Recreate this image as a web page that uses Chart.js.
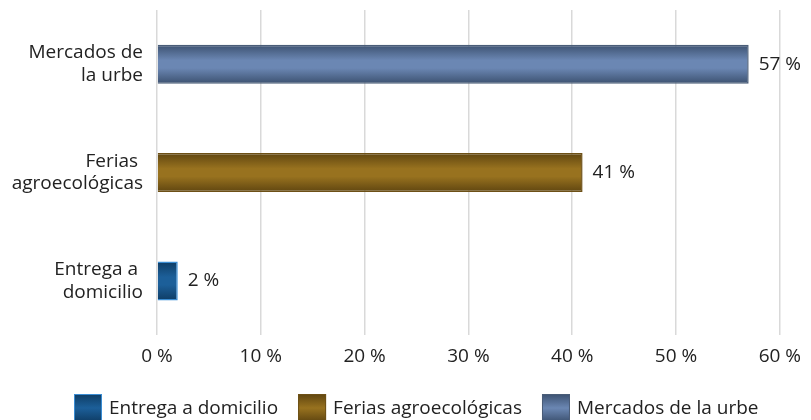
<!DOCTYPE html>
<html lang="es">
<head>
<meta charset="UTF-8">
<title>Canales de compra</title>
<script src="https://cdn.jsdelivr.net/npm/chart.js"></script>
<style>
  html, body { margin: 0; padding: 0; background: #fff; }
  #wrap { width: 811px; height: 420px; }
</style>
</head>
<body>
<div id="wrap"><canvas id="chart"></canvas></div>
<script>
const categories = [['Mercados de', 'la urbe'], ['Ferias ', 'agroecológicas'], ['Entrega a ', 'domicilio']];
const seriesNames = ['Entrega a domicilio', 'Ferias agroecológicas', 'Mercados de la urbe'];
const entregaValues = [null, null, 2];
const feriasValues = [null, 41, null];
const mercadosValues = [57, null, null];
const xTicks = [0, 10, 20, 30, 40, 50, 60];

// shading: [edge, centre, border]
const shades = [
  ['#0e3c64', '#1c5f99', '#3a8cd2'],
  ['#5f4510', '#98721f', '#6d5016'],
  ['#3c5170', '#6b87b3', '#4a5d78']
];

const values = [entregaValues, feriasValues, mercadosValues];

// vertical gradient per bar, computed from the bar's drawn position
const barShade = {
  id: 'barShade',
  beforeDatasetDraw(chart, args) {
    const ctx = chart.ctx;
    const s = shades[args.index];
    const data = chart.data.datasets[args.index].data;
    args.meta.data.forEach((el, j) => {
      if (data[j] == null) return;
      const top = el.y - el.height / 2, bot = el.y + el.height / 2;
      const g = ctx.createLinearGradient(0, top, 0, bot);
      g.addColorStop(0, s[0]);
      g.addColorStop(0.4, s[1]);
      g.addColorStop(0.6, s[1]);
      g.addColorStop(1, s[0]);
      el.options.backgroundColor = g;
    });
  }
};

const valueLabels = {
  id: 'valueLabels',
  afterDatasetsDraw(chart) {
    const ctx = chart.ctx;
    ctx.save();
    ctx.font = '19px "Open Sans"';
    ctx.fillStyle = '#222';
    ctx.textBaseline = 'middle';
    chart.data.datasets.forEach((ds, i) => {
      chart.getDatasetMeta(i).data.forEach((el, j) => {
        if (ds.data[j] == null) return;
        ctx.fillText(ds.data[j] + ' %', el.x + 10, el.y);
      });
    });
    ctx.restore();
  }
};

// legend along the bottom edge (boxes run off the canvas like the original)
const bottomLegend = {
  id: 'bottomLegend',
  afterDraw(chart) {
    const ctx = chart.ctx;
    ctx.save();
    ctx.font = '19px "Open Sans"';
    ctx.textBaseline = 'alphabetic';
    let x = 74;
    const top = 394;
    seriesNames.forEach((name, i) => {
      const g = ctx.createLinearGradient(0, top, 0, top + 28);
      g.addColorStop(0, shades[i][0]);
      g.addColorStop(0.5, shades[i][1]);
      g.addColorStop(1, shades[i][0]);
      ctx.fillStyle = g;
      ctx.fillRect(x, top, 28, 28);
      ctx.strokeStyle = shades[i][2];
      ctx.lineWidth = 1;
      ctx.strokeRect(x + 0.5, top + 0.5, 27, 27);
      ctx.fillStyle = '#222';
      ctx.fillText(name, x + 35, 414);
      x += 35 + ctx.measureText(name).width + 20;
    });
    ctx.restore();
  }
};

new Chart(document.getElementById('chart'), {
  type: 'bar',
  data: {
    labels: categories,
    datasets: seriesNames.map((name, i) => ({
      label: name,
      data: values[i],
      backgroundColor: shades[i][1],
      borderColor: shades[i][2],
      borderWidth: 1.5,
      grouped: false,
      categoryPercentage: 1,
      barPercentage: 0.36
    }))
  },
  plugins: [barShade, valueLabels, bottomLegend],
  options: {
    indexAxis: 'y',
    responsive: true,
    maintainAspectRatio: false,
    animation: false,
    layout: { padding: { top: 10, right: 22, left: 0, bottom: 42 } },
    scales: {
      x: {
        min: 0,
        max: 60,
        afterBuildTicks(axis) { axis.ticks = xTicks.map(v => ({ value: v })); },
        grid: { color: '#d9d9d9', lineWidth: 1.5, drawTicks: false },
        border: { display: false },
        ticks: {
          padding: 10,
          color: '#222',
          font: { family: 'Open Sans', size: 19 },
          callback: v => v + ' %'
        }
      },
      y: {
        grid: { display: false, drawTicks: false },
        border: { display: false },
        afterFit(scale) {
          scale.width = 157;
          scale.paddingTop = 0;
          scale.paddingBottom = 0;
        },
        ticks: {
          padding: 14,
          color: '#222',
          font: { family: 'Open Sans', size: 19, lineHeight: 1.2 }
        }
      }
    },
    plugins: {
      legend: { display: false },
      tooltip: { enabled: false }
    }
  }
});
</script>
</body>
</html>
